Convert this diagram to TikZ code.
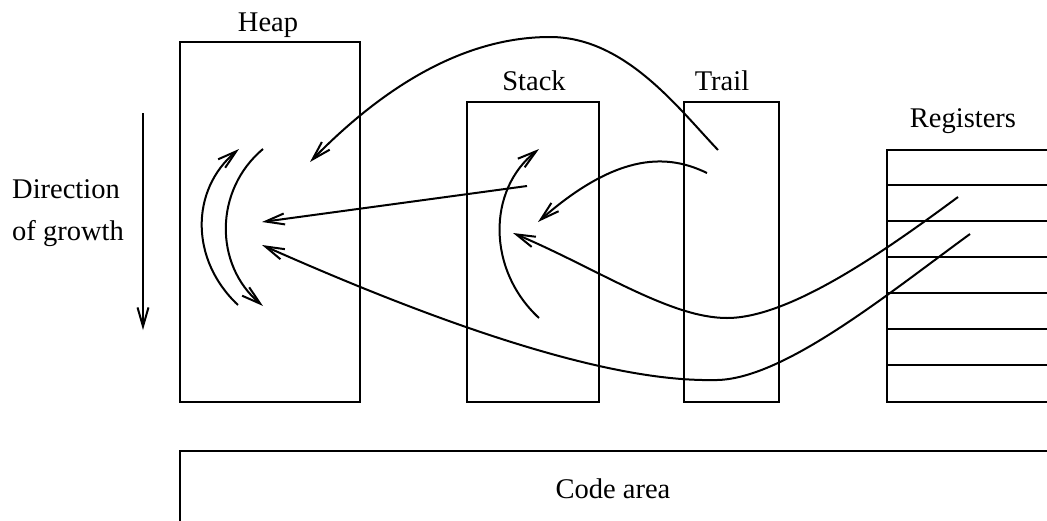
\documentclass[tikz,border=0pt]{standalone}
\usepackage{fontspec}
\setmainfont{Liberation Serif}
\usetikzlibrary{arrows.meta}
\begin{document}
\begin{tikzpicture}[x=1pt,y=-1pt,
  box/.style={draw, line width=2pt, inner sep=0pt, anchor=north west},
  lbl/.style={font=\fontsize{28.5}{34}\selectfont, inner sep=0pt, anchor=base},
  wire/.style={line width=2pt},
  ptr/.style={line width=2pt, -{Straight Barb[length=19pt,width=11pt,line width=2pt]}}]
\useasboundingbox (0,0) rectangle (1047,520);
\clip (0,0) rectangle (1047,520);

% memory areas
\node[box, minimum width=180pt, minimum height=360pt] (heap)  at (179,41)  {};
\node[box, minimum width=132pt, minimum height=300pt] (stack) at (466,101) {};
\node[box, minimum width=95pt,  minimum height=300pt] (trail) at (683,101) {};
\node[box, minimum width=220pt, minimum height=252pt] (regs)  at (886,149) {};
\node[box, minimum width=900pt, minimum height=120pt] (code)  at (179,450) {};

% register rows
\foreach \k in {1,...,6}
  \draw[wire] ([yshift=-36*\k pt]regs.north west) -- ++(200,0);

% labels
\node[lbl] (heapname)  at (268,31)  {Heap};
\node[lbl] (stackname) at (534,90)  {Stack};
\node[lbl] (trailname) at (722,90)  {Trail};
\node[lbl] (regsname)  at (963,127) {Registers};
\node[lbl] (codename)  at (613,498) {Code area};
\node[lbl, anchor=base west] (dir1) at (12,198) {Direction};
\node[lbl, anchor=base west] (dir2) at (12,240) {of growth};

% direction of growth
\coordinate (g0) at (143,113);
\coordinate (g1) at (143,330);
\draw[ptr] (g0) -- (g1);

% growth arcs inside heap and stack
\coordinate (hu0) at (238,305);
\coordinate (hu1) at (239,149);
\coordinate (hd0) at (263,149);
\coordinate (hd1) at (263,306);
\coordinate (su0) at (539,318);
\coordinate (su1) at (539,149);
\draw[ptr] (hu0) .. controls (190,260) and (190,190) .. (hu1);
\draw[ptr] (hd0) .. controls (214,190) and (214,265) .. (hd1);
\draw[ptr] (su0) .. controls (487,270) and (487,190) .. (su1);

% pointers
\coordinate (t1)  at (718,150);
\coordinate (hp1) at (310,162);
\coordinate (s2)  at (527,186);
\coordinate (hp2) at (262,222);
\coordinate (t2)  at (707,173);
\coordinate (sp2) at (538,222);
\coordinate (r1)  at (958,197);
\coordinate (sp1) at (513,233);
\coordinate (r2)  at (970,234);
\coordinate (hp3) at (262,245);

\draw[ptr] (t1) .. controls (678,108) and (625,37) .. (550,37)
                .. controls (480,37) and (400,70) .. (hp1);
\draw[ptr] (s2) -- (hp2);
\draw[ptr] (t2) .. controls (670,155) and (620,150) .. (sp2);
\draw[ptr] (r1) .. controls (885,251) and (790,318) .. (727,318)
                .. controls (670,318) and (598,269) .. (sp1);
\draw[ptr] (r2) .. controls (885,296) and (780,382) .. (713,380)
                .. controls (600,382) and (424,317) .. (hp3);
\end{tikzpicture}
\end{document}
